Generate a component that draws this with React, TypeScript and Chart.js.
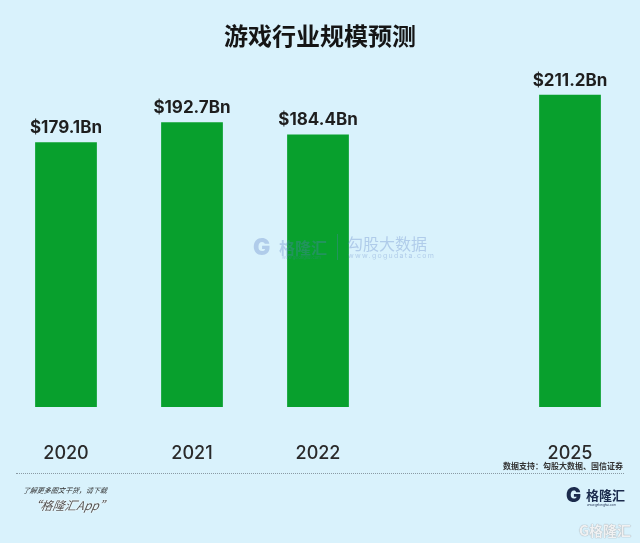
import React, { useEffect, useRef } from "react";
import { Chart, registerables } from "chart.js";

Chart.register(...registerables);

const categories: string[] = ["2020", "2021", "2022", "", "2025"];
const marketValues: (number | null)[] = [179.1, 192.7, 184.4, null, 211.2];
const valueLabels: string[] = ["$179.1Bn", "$192.7Bn", "$184.4Bn", "", "$211.2Bn"];

const BG = "#d9f2fc";
const GREEN = "#08a02d";

const valueLabelPlugin = {
  id: "valueLabels",
  afterDatasetsDraw(chart: any) {
    const ctx = chart.ctx;
    const meta = chart.getDatasetMeta(0);
    ctx.save();
    ctx.font = "bold 17px Inter, 'DejaVu Sans', sans-serif";
    ctx.fillStyle = "#1e1e1e";
    ctx.textAlign = "center";
    ctx.textBaseline = "alphabetic";
    meta.data.forEach((el: any, i: number) => {
      const v = marketValues[i];
      if (v === null || v === undefined) return;
      ctx.fillText(valueLabels[i], el.x, el.y - 9);
    });
    ctx.restore();
  },
};

export default function App() {
  const canvasRef = useRef<HTMLCanvasElement | null>(null);

  useEffect(() => {
    if (!canvasRef.current) return;
    const chart = new Chart(canvasRef.current, {
      type: "bar",
      data: {
        labels: categories,
        datasets: [
          {
            data: marketValues as any,
            backgroundColor: GREEN,
            borderWidth: 0,
            barPercentage: 0.49,
            categoryPercentage: 1,
          },
        ],
      },
      options: {
        animation: false,
        responsive: false,
        maintainAspectRatio: false,
        layout: { padding: { left: 3, right: 7, top: 37.5, bottom: 42.5 } },
        scales: {
          y: { display: false, min: 0, max: 250 },
          x: {
            grid: { display: false, tickLength: 0 },
            border: { display: false },
            ticks: {
              color: "#2a2a2a",
              padding: 36,
              font: { size: 18, weight: 500, family: "Inter, 'DejaVu Sans', sans-serif" },
            },
          },
        },
        plugins: {
          legend: { display: false },
          tooltip: { enabled: false },
          title: { display: false },
        },
      },
      plugins: [valueLabelPlugin],
    });
    return () => chart.destroy();
  }, []);

  const cjk = "'Noto Sans CJK SC', 'Noto Sans', sans-serif";
  const abs = (s: React.CSSProperties): React.CSSProperties => ({ position: "absolute", whiteSpace: "nowrap", ...s });
  const wm = "rgba(90,125,195,0.32)";

  return (
    <div style={{ position: "fixed", left: 0, top: 0, width: 640, height: 543, background: BG, overflow: "hidden" }}>
      <canvas ref={canvasRef} width={640} height={543} style={{ position: "absolute", left: 0, top: 0, width: 640, height: 543 }} />
      <div style={abs({ left: 0, width: 640, top: 21, textAlign: "center", fontFamily: cjk, fontWeight: 700, fontSize: 24, lineHeight: "28px", color: "#151515" })}>
        游戏行业规模预测
      </div>

      {/* centre watermark */}
      <div style={abs({ left: 253, top: 237, width: 19, height: 20, fontFamily: "Inter, sans-serif", fontWeight: 900, fontSize: 23, lineHeight: "20px", color: wm })}>G</div>
      <div style={abs({ left: 279, top: 236, fontFamily: cjk, fontWeight: 700, fontSize: 16, lineHeight: "22px", color: wm })}>格隆汇</div>
      <div style={abs({ left: 282, top: 255, fontFamily: "Inter, sans-serif", fontSize: 4, lineHeight: "5px", color: wm })}>www.gelonghui.com</div>
      <div style={abs({ left: 337, top: 234, width: 1, height: 26, background: wm })} />
      <div style={abs({ left: 347, top: 232, fontFamily: cjk, fontWeight: 400, fontSize: 16, lineHeight: "22px", color: wm, letterSpacing: 0 })}>勾股大数据</div>
      <div style={abs({ left: 348, top: 252, fontFamily: "Inter, sans-serif", fontSize: 7, lineHeight: "8px", color: wm, letterSpacing: 1.3 })}>www.gogudata.com</div>

      {/* source */}
      <div style={abs({ right: 17, top: 461, fontFamily: cjk, fontWeight: 700, fontSize: 8, lineHeight: "10px", color: "#333" })}>
        数据支持：勾股大数据、国信证券
      </div>
      <div style={abs({ left: 16, top: 473, width: 608, height: 0, borderTop: "1px dotted #8a9aa4" })} />

      {/* footer left */}
      <div style={abs({ left: 23, top: 485, fontFamily: cjk, fontStyle: "italic", fontSize: 7, lineHeight: "10px", color: "#333", transform: "skewX(-10deg)" })}>
        了解更多图文干货，请下载
      </div>
      <div style={abs({ left: 29, top: 497, fontFamily: cjk, fontStyle: "italic", fontSize: 12, lineHeight: "16px", color: "#555", textShadow: "0 0 2px #fff, 0 0 1px #fff", transform: "skewX(-10deg)" })}>
        “格隆汇App”
      </div>

      {/* footer right logo */}
      <div style={abs({ left: 566, top: 487, width: 14, height: 17, fontFamily: "Inter, sans-serif", fontWeight: 900, fontSize: 20, lineHeight: "17px", color: "#1b2b4d" })}>G</div>
      <div style={abs({ left: 586, top: 486, fontFamily: cjk, fontWeight: 700, fontSize: 13, lineHeight: "17px", color: "#1b2b4d" })}>格隆汇</div>
      <div style={abs({ left: 587, top: 503, fontFamily: "Inter, sans-serif", fontSize: 3, lineHeight: "4px", color: "#1b2b4d" })}>www.gelonghui.com</div>

      {/* bottom-right watermark */}
      <div style={abs({ left: 579, top: 520, fontFamily: cjk, fontWeight: 700, fontSize: 14, lineHeight: "20px", color: "rgba(255,255,255,0.85)", textShadow: "0 0 1px #9aa4ab, 0 0 1px #9aa4ab" })}>
        G格隆汇
      </div>
    </div>
  );
}
